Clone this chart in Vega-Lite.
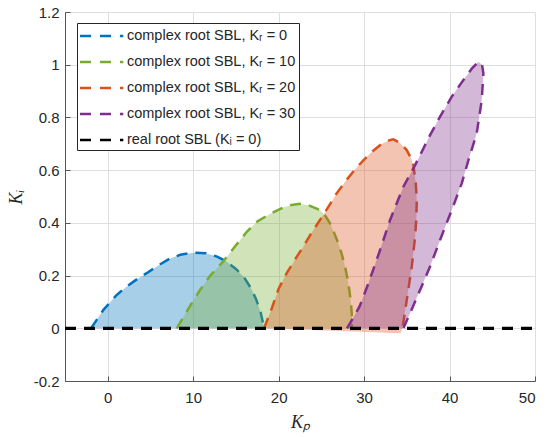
{
  "$schema": "https://vega.github.io/schema/vega-lite/v6.json",
  "width": 470,
  "height": 369,
  "autosize": {"type": "none"},
  "padding": {"left": 65, "top": 12, "right": 15, "bottom": 56},
  "background": "white",
  "config": {
    "view": {"stroke": null},
    "font": "Liberation Sans",
    "axis": {
      "grid": true,
      "gridColor": "#dedede",
      "gridWidth": 1,
      "domainColor": "#555555",
      "domainWidth": 1,
      "tickColor": "#555555",
      "tickSize": -5,
      "labelFont": "Liberation Sans",
      "labelFontSize": 15,
      "labelColor": "#262626",
      "titleFont": "Liberation Serif",
      "titleFontStyle": "italic",
      "titleFontWeight": "normal",
      "titleFontSize": 18,
      "titleColor": "#262626"
    },
    "legend": {
      "labelFont": "Liberation Sans",
      "labelFontSize": 14.5,
      "labelColor": "#262626",
      "labelLimit": 0
    }
  },
  "datasets": {
    "curves": [
      {"s": "0", "i": 0, "kp": -1.95, "ki": 0},
      {"s": "0", "i": 1, "kp": -0.5, "ki": 0.07},
      {"s": "0", "i": 2, "kp": 1, "ki": 0.125},
      {"s": "0", "i": 3, "kp": 2.2, "ki": 0.158},
      {"s": "0", "i": 4, "kp": 3.5, "ki": 0.188},
      {"s": "0", "i": 5, "kp": 4.6, "ki": 0.21},
      {"s": "0", "i": 6, "kp": 6, "ki": 0.24},
      {"s": "0", "i": 7, "kp": 7.3, "ki": 0.265},
      {"s": "0", "i": 8, "kp": 8.5, "ki": 0.279},
      {"s": "0", "i": 9, "kp": 10, "ki": 0.287},
      {"s": "0", "i": 10, "kp": 11.5, "ki": 0.285},
      {"s": "0", "i": 11, "kp": 12.8, "ki": 0.272},
      {"s": "0", "i": 12, "kp": 13.9, "ki": 0.253},
      {"s": "0", "i": 13, "kp": 15, "ki": 0.225},
      {"s": "0", "i": 14, "kp": 15.9, "ki": 0.196},
      {"s": "0", "i": 15, "kp": 16.8, "ki": 0.15},
      {"s": "0", "i": 16, "kp": 17.4, "ki": 0.107},
      {"s": "0", "i": 17, "kp": 17.9, "ki": 0.06},
      {"s": "0", "i": 18, "kp": 18.3, "ki": 0},
      {"s": "10", "i": 0, "kp": 8.07, "ki": 0},
      {"s": "10", "i": 1, "kp": 9, "ki": 0.05},
      {"s": "10", "i": 2, "kp": 10, "ki": 0.105},
      {"s": "10", "i": 3, "kp": 10.8, "ki": 0.145},
      {"s": "10", "i": 4, "kp": 12, "ki": 0.2},
      {"s": "10", "i": 5, "kp": 13.5, "ki": 0.253},
      {"s": "10", "i": 6, "kp": 15, "ki": 0.315},
      {"s": "10", "i": 7, "kp": 16.3, "ki": 0.367},
      {"s": "10", "i": 8, "kp": 17.5, "ki": 0.405},
      {"s": "10", "i": 9, "kp": 19, "ki": 0.434},
      {"s": "10", "i": 10, "kp": 20.5, "ki": 0.458},
      {"s": "10", "i": 11, "kp": 21.5, "ki": 0.468},
      {"s": "10", "i": 12, "kp": 22.5, "ki": 0.472},
      {"s": "10", "i": 13, "kp": 23.5, "ki": 0.467},
      {"s": "10", "i": 14, "kp": 24.84, "ki": 0.449},
      {"s": "10", "i": 15, "kp": 25.5, "ki": 0.425},
      {"s": "10", "i": 16, "kp": 26.01, "ki": 0.398},
      {"s": "10", "i": 17, "kp": 26.5, "ki": 0.362},
      {"s": "10", "i": 18, "kp": 26.99, "ki": 0.322},
      {"s": "10", "i": 19, "kp": 27.4, "ki": 0.28},
      {"s": "10", "i": 20, "kp": 27.77, "ki": 0.234},
      {"s": "10", "i": 21, "kp": 28.05, "ki": 0.19},
      {"s": "10", "i": 22, "kp": 28.27, "ki": 0.145},
      {"s": "10", "i": 23, "kp": 28.45, "ki": 0.1},
      {"s": "10", "i": 24, "kp": 28.55, "ki": 0.06},
      {"s": "10", "i": 25, "kp": 28.57, "ki": 0.025},
      {"s": "10", "i": 26, "kp": 28.55, "ki": 0},
      {"s": "20", "i": 0, "kp": 18.3, "ki": 0},
      {"s": "20", "i": 1, "kp": 19.2, "ki": 0.076},
      {"s": "20", "i": 2, "kp": 20, "ki": 0.15},
      {"s": "20", "i": 3, "kp": 20.94, "ki": 0.209},
      {"s": "20", "i": 4, "kp": 22, "ki": 0.265},
      {"s": "20", "i": 5, "kp": 22.89, "ki": 0.31},
      {"s": "20", "i": 6, "kp": 24, "ki": 0.37},
      {"s": "20", "i": 7, "kp": 24.84, "ki": 0.411},
      {"s": "20", "i": 8, "kp": 26, "ki": 0.47},
      {"s": "20", "i": 9, "kp": 26.79, "ki": 0.512},
      {"s": "20", "i": 10, "kp": 28, "ki": 0.565},
      {"s": "20", "i": 11, "kp": 29, "ki": 0.605},
      {"s": "20", "i": 12, "kp": 30, "ki": 0.64},
      {"s": "20", "i": 13, "kp": 31, "ki": 0.672},
      {"s": "20", "i": 14, "kp": 32, "ki": 0.698},
      {"s": "20", "i": 15, "kp": 33, "ki": 0.714},
      {"s": "20", "i": 16, "kp": 33.43, "ki": 0.717},
      {"s": "20", "i": 17, "kp": 34.2, "ki": 0.703},
      {"s": "20", "i": 18, "kp": 34.99, "ki": 0.676},
      {"s": "20", "i": 19, "kp": 35.5, "ki": 0.645},
      {"s": "20", "i": 20, "kp": 35.77, "ki": 0.619},
      {"s": "20", "i": 21, "kp": 36.05, "ki": 0.55},
      {"s": "20", "i": 22, "kp": 36.16, "ki": 0.487},
      {"s": "20", "i": 23, "kp": 36.12, "ki": 0.42},
      {"s": "20", "i": 24, "kp": 35.97, "ki": 0.348},
      {"s": "20", "i": 25, "kp": 35.58, "ki": 0.234},
      {"s": "20", "i": 26, "kp": 34.99, "ki": 0.107},
      {"s": "20", "i": 27, "kp": 34.52, "ki": 0.006},
      {"s": "20", "i": 28, "kp": 34.29, "ki": -0.019},
      {"s": "30", "i": 0, "kp": 28.0, "ki": 0},
      {"s": "30", "i": 1, "kp": 29.0, "ki": 0.055},
      {"s": "30", "i": 2, "kp": 29.5, "ki": 0.085},
      {"s": "30", "i": 3, "kp": 30.5, "ki": 0.17},
      {"s": "30", "i": 4, "kp": 31.87, "ki": 0.297},
      {"s": "30", "i": 5, "kp": 33.04, "ki": 0.411},
      {"s": "30", "i": 6, "kp": 34.6, "ki": 0.537},
      {"s": "30", "i": 7, "kp": 35.97, "ki": 0.619},
      {"s": "30", "i": 8, "kp": 37.72, "ki": 0.733},
      {"s": "30", "i": 9, "kp": 38.89, "ki": 0.803},
      {"s": "30", "i": 10, "kp": 40.26, "ki": 0.879},
      {"s": "30", "i": 11, "kp": 41.62, "ki": 0.942},
      {"s": "30", "i": 12, "kp": 42.6, "ki": 0.985},
      {"s": "30", "i": 13, "kp": 43.38, "ki": 1.011},
      {"s": "30", "i": 14, "kp": 43.8, "ki": 1.0},
      {"s": "30", "i": 15, "kp": 43.96, "ki": 0.967},
      {"s": "30", "i": 16, "kp": 43.77, "ki": 0.866},
      {"s": "30", "i": 17, "kp": 43.18, "ki": 0.74},
      {"s": "30", "i": 18, "kp": 42.21, "ki": 0.638},
      {"s": "30", "i": 19, "kp": 41.43, "ki": 0.55},
      {"s": "30", "i": 20, "kp": 40.26, "ki": 0.449},
      {"s": "30", "i": 21, "kp": 38.89, "ki": 0.335},
      {"s": "30", "i": 22, "kp": 37.72, "ki": 0.234},
      {"s": "30", "i": 23, "kp": 36.55, "ki": 0.145},
      {"s": "30", "i": 24, "kp": 35.38, "ki": 0.057},
      {"s": "30", "i": 25, "kp": 34.6, "ki": 0},
      {"s": "real", "i": 0, "kp": -5, "ki": 0},
      {"s": "real", "i": 1, "kp": 50, "ki": 0}
    ]
  },
  "data": {"name": "curves"},
  "encoding": {
    "x": {"field": "kp", "type": "quantitative", "scale": {"domain": [-5, 50], "nice": false, "zero": false},
      "axis": {"values": [0, 10, 20, 30, 40, 50], "title": "Kₚ", "labelPadding": 14, "titlePadding": 8}},
    "y": {"field": "ki", "type": "quantitative", "scale": {"domain": [-0.2, 1.2], "nice": false, "zero": false},
      "axis": {"values": [-0.2, 0, 0.2, 0.4, 0.6, 0.8, 1, 1.2], "title": "Kᵢ", "labelExpr": "replace(format(datum.value, '~g'), '−', '-')", "labelPadding": 11, "titlePadding": 8}},
    "order": {"field": "i", "type": "quantitative"}
  },
  "layer": [
    {"transform": [{"filter": "datum.s == '0'"}],
     "mark": {"type": "line", "fill": "#0072BD", "fillOpacity": 0.34, "strokeOpacity": 0, "strokeWidth": 0}},
    {"transform": [{"filter": "datum.s == '0'"}],
     "mark": {"type": "line", "strokeDash": [11, 8], "strokeWidth": 2.5},
     "encoding": {"color": {"field": "s", "type": "nominal"}}},
    {"transform": [{"filter": "datum.s == '10'"}],
     "mark": {"type": "line", "fill": "#77AC30", "fillOpacity": 0.34, "strokeOpacity": 0, "strokeWidth": 0}},
    {"transform": [{"filter": "datum.s == '10'"}],
     "mark": {"type": "line", "strokeDash": [11, 8], "strokeWidth": 2.5},
     "encoding": {"color": {"field": "s", "type": "nominal"}}},
    {"transform": [{"filter": "datum.s == '20'"}],
     "mark": {"type": "line", "fill": "#D95319", "fillOpacity": 0.34, "strokeOpacity": 0, "strokeWidth": 0}},
    {"transform": [{"filter": "datum.s == '20'"}],
     "mark": {"type": "line", "strokeDash": [11, 8], "strokeWidth": 2.5},
     "encoding": {"color": {"field": "s", "type": "nominal"}}},
    {"transform": [{"filter": "datum.s == '30'"}],
     "mark": {"type": "line", "fill": "#7E2F8E", "fillOpacity": 0.34, "strokeOpacity": 0, "strokeWidth": 0}},
    {"transform": [{"filter": "datum.s == '30'"}],
     "mark": {"type": "line", "strokeDash": [11, 8], "strokeWidth": 2.5},
     "encoding": {"color": {"field": "s", "type": "nominal"}}},
    {"transform": [{"filter": "datum.s == 'real'"}],
     "mark": {"type": "line", "strokeDash": [11, 8], "strokeWidth": 3.2},
     "encoding": {"color": {"field": "s", "type": "nominal",
       "scale": {"domain": ["0", "10", "20", "30", "real"], "range": ["#0072BD", "#77AC30", "#D95319", "#7E2F8E", "#000000"]},
       "legend": {
         "title": null,
         "orient": "none",
         "legendX": 12,
         "legendY": 11,
         "symbolType": "M-2.5,0H2.5",
         "symbolSize": 300,
         "symbolStrokeWidth": 2.5,
         "symbolDash": [11, 9],
         "symbolOffset": 11.65,
         "labelOffset": 15.3,
         "padding": 3,
         "rowPadding": 9,
         "strokeColor": "#262626",
         "fillColor": "white",
         "labelExpr": "datum.label == 'real' ? 'real root SBL (Kᵢ = 0)' : 'complex root SBL, Kᵣ = ' + datum.label"
       }}}}
  ]
}
